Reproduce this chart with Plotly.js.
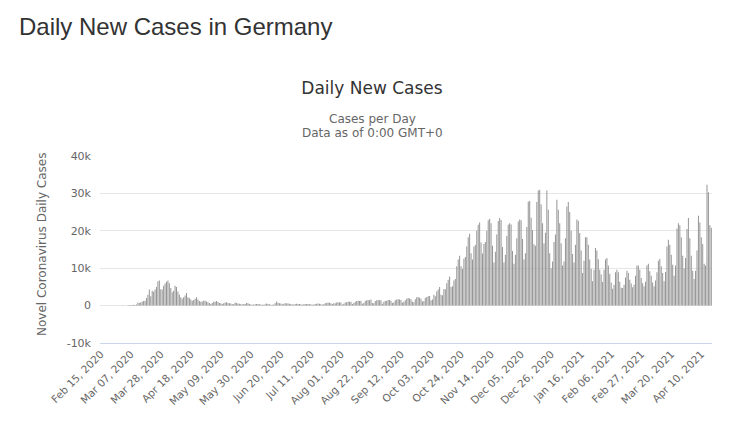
<!DOCTYPE html>
<html>
<head>
<meta charset="utf-8">
<script src="https://cdn.plot.ly/plotly-3.0.1.min.js"></script>
<style>
  html, body { margin: 0; padding: 0; background: #ffffff; }
  #wrap { position: relative; width: 738px; height: 422px; overflow: hidden; }
  #pageTitle { position: absolute; left: 19px; top: 15px; margin: 0; font-family: "Liberation Sans", Arial, sans-serif; font-size: 24px; line-height: 24px; font-weight: normal; color: #333333; z-index: 2; white-space: nowrap; }
  #chart { position: absolute; left: 0; top: 0; width: 738px; height: 422px; }
</style>
</head>
<body>
<div id="wrap">
  <h1 id="pageTitle">Daily New Cases in Germany</h1>
  <div id="chart"></div>
</div>
<script>
// ---- Data (daily new cases, Germany, from Feb 15, 2020; one row per week, Sat..Fri) ----
const startDate = "2020-02-15";
const dailyCases = [
  0,0,0,0,0,0,0,
  0,0,0,2,0,10,26,
  13,62,28,38,52,109,146,
  161,133,248,157,271,802,693,
  900,1050,1200,1300,2000,2900,4300,
  2500,4000,3700,4300,5000,6500,6700,
  4400,4300,5300,5900,6400,6700,6000,
  4700,3600,4000,5300,5000,3800,3000,
  2200,1800,2200,2700,3400,2200,2000,
  1600,1300,1500,1800,2200,1600,1200,
  1000,1100,1300,1300,1100,900,700,
  450,700,1000,1000,1200,950,700,
  650,450,600,800,900,700,600,
  550,350,450,800,700,550,500,
  450,300,400,400,700,650,450,
  300,200,300,350,400,450,350,
  300,250,200,350,550,450,350,
  250,200,300,600,1100,750,600,
  550,350,500,600,600,550,500,
  450,300,300,450,500,450,400,
  350,250,350,400,450,400,350,
  380,200,300,400,500,550,500,
  450,250,400,600,700,800,750,
  600,400,600,650,800,900,850,
  800,300,500,800,900,1000,1000,
  1000,400,700,1000,1200,1300,1200,
  1300,500,700,1200,1400,1500,1400,
  1600,700,600,1200,1400,1500,1400,
  1400,500,1000,1200,1300,1500,1500,
  1300,700,900,1400,1600,1700,1600,
  1500,800,1000,1400,1800,2000,1900,
  1700,1000,900,1700,2200,2300,2100,
  1800,1100,1200,2000,2300,2500,2600,
  1400,1600,2900,2500,3800,4300,5000,
  2900,2800,4400,4400,6000,6900,7800,
  5000,5200,6700,7100,10500,12300,13300,
  10500,9800,12500,13000,15800,18300,19200,
  14000,12300,15800,16200,20100,21600,22200,
  16900,13900,16500,17000,20000,22800,23200,
  22000,16000,11500,14400,19000,22600,23400,
  22900,15700,11500,13600,18600,21600,22000,
  21700,14600,11200,13600,18000,22500,23000,
  22800,17800,12300,14000,21000,27800,28000,
  23500,20200,16400,16000,27700,30800,31000,
  27000,22000,16600,19500,30800,25600,14000,
  10000,11800,17000,19000,28300,25600,22000,
  16700,10700,11800,18000,26500,27700,25000,
  20000,13800,11500,16300,23000,22700,19400,
  14700,8700,12000,18300,18300,16300,12300,
  9800,6500,9600,15400,14700,12400,9600,
  8300,6300,9600,12300,12700,10700,8500,
  6200,4500,5600,8900,9600,8900,6400,
  4800,4700,5600,7500,9300,8700,6900,
  5900,4900,5600,8000,10700,10700,9600,
  7400,6000,5200,6400,10700,11200,9200,
  8000,6200,5200,6700,8900,12000,12500,
  10500,8700,6500,9000,15800,17600,16300,
  13600,10900,8000,10700,20600,22000,21500,
  18300,13300,9900,12700,20500,23400,18000,
  13300,9300,7100,9300,14700,24000,22200,
  18300,16500,11200,10700,32300,30300,21500,
  20800
];
const xTickLabels = [
  "Feb 15, 2020","Mar 07, 2020","Mar 28, 2020","Apr 18, 2020","May 09, 2020",
  "May 30, 2020","Jun 20, 2020","Jul 11, 2020","Aug 01, 2020","Aug 22, 2020",
  "Sep 12, 2020","Oct 03, 2020","Oct 24, 2020","Nov 14, 2020","Dec 05, 2020",
  "Dec 26, 2020","Jan 16, 2021","Feb 06, 2021","Feb 27, 2021","Mar 20, 2021",
  "Apr 10, 2021"
];
const yTickValues = [-10000, 0, 10000, 20000, 30000, 40000];
const yTickLabels = ["-10k", "0", "10k", "20k", "30k", "40k"];

// ---- Category labels: one calendar day per value ----
const monthNames = ["Jan","Feb","Mar","Apr","May","Jun","Jul","Aug","Sep","Oct","Nov","Dec"];
const categories = [];
{
  const d0 = new Date(startDate + "T00:00:00Z");
  for (let i = 0; i < dailyCases.length; i++) {
    const d = new Date(d0.getTime() + i * 86400000);
    const dd = String(d.getUTCDate()).padStart(2, "0");
    categories.push(monthNames[d.getUTCMonth()] + " " + dd + ", " + d.getUTCFullYear());
  }
}

// ---- Layout geometry (pixels) ----
const W = 738, H = 422;
const M = { l: 100, r: 26, t: 156, b: 79 };
const plotW = W - M.l - M.r, plotH = H - M.t - M.b;
const px2paperX = x => (x - M.l) / plotW;
const px2paperY = y => (H - M.b - y) / plotH;

const hcFont = "DejaVu Sans, Verdana, sans-serif";

const trace = {
  type: "bar",
  x: categories,
  y: dailyCases,
  marker: { color: "#959595", line: { width: 0 } },
  hoverinfo: "skip"
};

const layout = {
  width: W, height: H,
  margin: M,
  paper_bgcolor: "rgba(0,0,0,0)",
  plot_bgcolor: "#ffffff",
  bargap: 0.3,
  showlegend: false,
  title: {
    text: "Daily New Cases",
    font: { family: hcFont, size: 17, color: "#333333" },
    xref: "container", yref: "container",
    x: 372 / W, xanchor: "center",
    y: 1 - 88 / H, yanchor: "middle"
  },
  xaxis: {
    type: "category",
    categoryorder: "array",
    categoryarray: categories,
    range: [-0.5, categories.length - 0.5],
    tickmode: "array",
    tickvals: xTickLabels,
    ticktext: xTickLabels,
    tickangle: -45,
    tickfont: { family: hcFont, size: 10.5, color: "#666666" },
    showgrid: false,
    zeroline: false,
    showline: true,
    linecolor: "#ccd6eb",
    linewidth: 1,
    ticks: "",
    fixedrange: true
  },
  yaxis: {
    range: [-10000, 40000],
    tickmode: "array",
    tickvals: yTickValues,
    ticktext: yTickLabels,
    tickfont: { family: hcFont, size: 11, color: "#666666" },
    gridcolor: "#e6e6e6",
    gridwidth: 1,
    zeroline: false,
    showline: false,
    ticks: "",
    ticklabelstandoff: 8,
    fixedrange: true
  },
  annotations: [
    {
      text: "Cases per Day",
      xref: "paper", yref: "paper",
      x: px2paperX(372), y: px2paperY(119),
      xanchor: "center", yanchor: "middle",
      showarrow: false,
      font: { family: hcFont, size: 12, color: "#666666" }
    },
    {
      text: "Data as of 0:00 GMT+0",
      xref: "paper", yref: "paper",
      x: px2paperX(372), y: px2paperY(133),
      xanchor: "center", yanchor: "middle",
      showarrow: false,
      font: { family: hcFont, size: 12, color: "#666666" }
    },
    {
      text: "Novel Coronavirus Daily Cases",
      xref: "paper", yref: "paper",
      x: px2paperX(42), y: px2paperY(245),
      xanchor: "center", yanchor: "middle",
      textangle: -90,
      showarrow: false,
      font: { family: hcFont, size: 12, color: "#666666" }
    }
  ]
};

Plotly.newPlot("chart", [trace], layout, { staticPlot: true, displayModeBar: false, responsive: false });
</script>
</body>
</html>
